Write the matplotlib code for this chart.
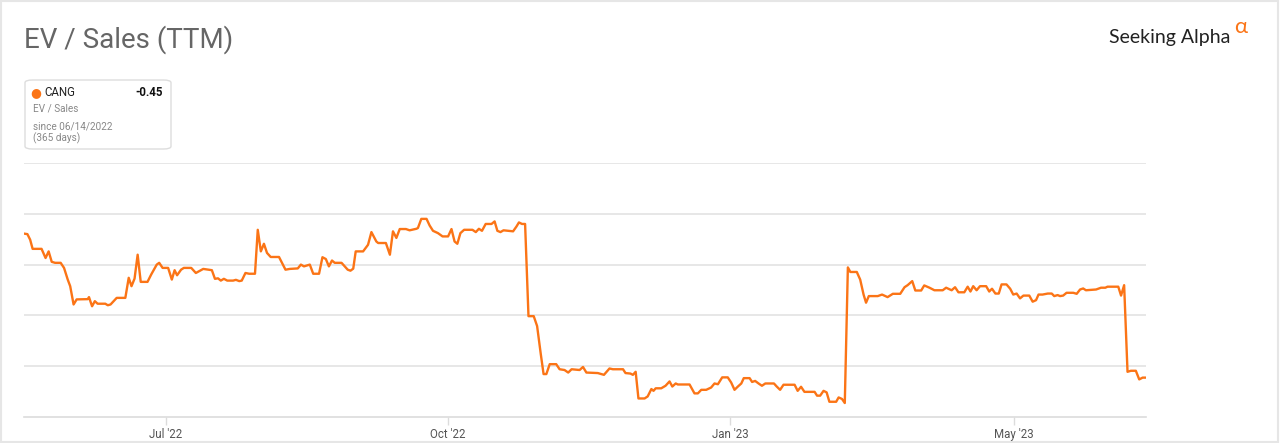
import matplotlib
matplotlib.use("Agg")
import matplotlib.pyplot as plt
from matplotlib.patches import FancyBboxPatch, Rectangle

plt.rcParams['font.family'] = ['Roboto', 'DejaVu Sans']

# EV / Sales (TTM) for CANG (x = position along the ordinal time axis)
days = [0.0, 1.1, 2.0, 2.8, 5.7, 7.0, 8.0, 9.0, 10.1, 11.9, 13.0, 14.2, 15.0, 16.1, 17.1,
        20.7, 21.1, 22.1, 23.0, 23.9, 26.4, 27.2, 28.1, 30.1, 32.9, 34.0, 34.9, 35.9, 36.9,
        37.9, 40.1, 41.3, 43.1, 43.9, 45.0, 46.8, 48.0, 48.9, 49.7, 51.0, 51.9, 54.3, 55.8,
        58.2, 61.0, 62.0, 63.0, 63.9, 64.9, 66.0, 67.9, 68.8, 69.9, 70.7, 71.9, 73.1, 75.0,
        75.9, 76.9, 77.9, 78.9, 80.1, 82.8, 84.9, 86.3, 88.9, 89.9, 90.9, 92.8, 93.9, 95.8,
        96.9, 98.0, 99.0, 100.0, 100.9, 103.1, 105.1, 106.0, 106.9, 107.7, 110.1, 111.7,
        112.8, 114.4, 115.0, 117.5, 118.8, 119.8, 120.9, 122.0, 124.0, 125.2, 127.4, 127.9,
        129.0, 130.7, 131.7, 132.8, 134.4, 135.9, 137.7, 138.8, 139.8, 140.7, 141.7, 142.9,
        145.6, 146.7, 147.7, 148.7, 149.9, 151.8, 152.8, 153.7, 154.7, 155.7, 158.8, 159.9,
        160.7, 161.7, 162.7, 163.8, 165.5, 166.6, 167.8, 168.7, 169.6, 170.7, 172.8, 173.9,
        175.5, 176.7, 177.8, 180.4, 181.5, 182.6, 186.3, 188.3, 190.1, 191.2, 194.5, 195.3,
        196.9, 197.7, 198.6, 199.5, 201.5, 202.5, 203.7, 204.4, 205.1, 206.9, 208.3, 209.6,
        210.5, 211.6, 212.3, 216.1, 217.7, 218.8, 219.9, 221.5, 223.1, 224.2, 225.3, 226.7,
        228.5, 229.6, 230.7, 231.8, 232.9, 233.7, 235.6, 236.4, 237.4, 238.5, 239.6, 240.7,
        243.5, 244.4, 245.5, 246.6, 250.2, 251.2, 252.3, 253.4, 256.7, 257.5, 258.5, 259.6,
        260.6, 261.5, 263.7, 264.5, 265.6, 266.5, 267.5, 268.3, 270.4, 271.5, 272.6, 273.4,
        274.3, 277.2, 278.6, 280.4, 282.1, 284.5, 285.9, 286.9, 288.4, 289.4, 291.3, 292.3,
        294.0, 295.6, 298.3, 299.4, 301.2, 302.3, 303.4, 305.3, 306.4, 307.3, 308.2, 309.3,
        310.4, 312.4, 313.4, 314.3, 315.4, 316.5, 317.4, 319.0, 320.2, 321.2, 322.3, 323.4,
        324.5, 326.4, 327.5, 328.6, 329.4, 330.7, 332.4, 333.7, 334.5, 335.6, 336.4, 337.4,
        338.5, 340.7, 341.8, 342.9, 343.9, 344.8, 348.1, 349.7, 351.1, 351.8, 355.3, 356.2,
        357.2, 358.3, 359.4, 361.0, 362.1, 363.2, 364.3]
ev_sales = [0.122, 0.120, 0.098, 0.062, 0.062, 0.026, 0.052, 0.011, 0.007, 0.007, -0.013,
            -0.059, -0.085, -0.157, -0.137, -0.136, -0.128, -0.164, -0.144, -0.154, -0.154,
            -0.160, -0.157, -0.131, -0.131, -0.052, -0.085, -0.055, 0.039, -0.068, -0.068,
            -0.039, 0.000, 0.007, -0.013, -0.013, -0.059, -0.022, -0.042, -0.020, -0.013,
            -0.013, -0.033, -0.017, -0.022, -0.056, -0.054, -0.063, -0.056, -0.063, -0.063,
            -0.060, -0.065, -0.063, -0.033, -0.036, -0.036, 0.137, 0.052, 0.082, 0.046, 0.030,
            0.030, -0.020, -0.017, -0.015, 0.000, -0.007, 0.000, -0.036, -0.036, 0.029, 0.022,
            -0.007, 0.016, 0.007, 0.007, -0.020, -0.024, -0.016, 0.052, 0.052, 0.078, 0.128,
            0.091, 0.085, 0.085, 0.039, 0.131, 0.105, 0.140, 0.140, 0.135, 0.141, 0.144, 0.180,
            0.180, 0.154, 0.133, 0.124, 0.111, 0.111, 0.140, 0.091, 0.082, 0.124, 0.137, 0.137,
            0.128, 0.141, 0.133, 0.160, 0.160, 0.170, 0.133, 0.128, 0.135, 0.131, 0.150, 0.166,
            0.160, 0.160, -0.203, -0.203, -0.242, -0.353, -0.431, -0.431, -0.392, -0.392,
            -0.412, -0.415, -0.425, -0.412, -0.415, -0.403, -0.425, -0.427, -0.434, -0.409,
            -0.412, -0.412, -0.427, -0.429, -0.434, -0.422, -0.527, -0.527, -0.519, -0.490,
            -0.497, -0.487, -0.487, -0.477, -0.460, -0.480, -0.468, -0.472, -0.472, -0.507,
            -0.507, -0.493, -0.493, -0.484, -0.468, -0.471, -0.444, -0.444, -0.464, -0.493,
            -0.480, -0.468, -0.447, -0.447, -0.462, -0.458, -0.468, -0.477, -0.468, -0.468,
            -0.480, -0.493, -0.473, -0.473, -0.497, -0.481, -0.501, -0.501, -0.516, -0.516,
            -0.497, -0.503, -0.540, -0.540, -0.523, -0.529, -0.545, -0.011, -0.029, -0.029,
            -0.059, -0.118, -0.150, -0.124, -0.124, -0.118, -0.128, -0.115, -0.115, -0.089,
            -0.081, -0.065, -0.102, -0.102, -0.082, -0.091, -0.101, -0.101, -0.091, -0.101,
            -0.089, -0.109, -0.109, -0.087, -0.106, -0.085, -0.101, -0.085, -0.085, -0.106,
            -0.095, -0.114, -0.114, -0.078, -0.078, -0.095, -0.118, -0.114, -0.133, -0.122,
            -0.122, -0.146, -0.140, -0.118, -0.118, -0.114, -0.114, -0.124, -0.120, -0.124,
            -0.122, -0.111, -0.111, -0.115, -0.098, -0.094, -0.101, -0.098, -0.091, -0.091,
            -0.087, -0.087, -0.122, -0.081, -0.422, -0.418, -0.418, -0.452, -0.445, -0.445]

tick_pos = [46.0, 137.7, 229.3, 321.3]
tick_labels = ["Jul '22", "Oct '22", "Jan '23", "May '23"]
grid_levels = [-0.4, -0.2, 0.0, 0.2, 0.4]

ORANGE = '#fb7416'

fig = plt.figure(figsize=(12.8, 4.43), dpi=100)
ax = fig.add_axes([24 / 1280, 26 / 443, 1122 / 1280, 254 / 443])

for g in grid_levels:
    ax.axhline(g, color='#e3e3e3', lw=1.2, zorder=1)
ax.plot(days, ev_sales, color=ORANGE, lw=1.7, zorder=3, solid_joinstyle='round')

ax.set_xlim(0, 364.3)
ax.set_ylim(-0.6, 0.4)
for s in ['top', 'right', 'left']:
    ax.spines[s].set_visible(False)
ax.spines['bottom'].set_color('#dcdcdc')
ax.spines['bottom'].set_linewidth(1.2)
ax.set_yticks([])
ax.set_xticks(tick_pos)
ax.set_xticklabels(tick_labels, fontsize=8.3, color='#555555')
ax.tick_params(axis='x', length=6, width=1, color='#dcdcdc', pad=2)

# title and logo
fig.text(24 / 1280, 1 - 40 / 443, "EV / Sales (TTM)", fontsize=20, color='#666666',
         va='center', ha='left')
fig.text(1109 / 1280, 1 - 37 / 443, "Seeking Alpha", fontsize=14, color='#222222',
         va='center', ha='left', family=['Lato', 'DejaVu Sans'])
fig.text(1234 / 1280, 1 - 27 / 443, "\u03b1", fontsize=16, color=ORANGE,
         va='center', ha='left', family=['Lato', 'DejaVu Sans'])

# legend card
card = FancyBboxPatch((25 / 1280, 1 - 149 / 443), 146 / 1280, 69 / 443,
                      boxstyle='round,pad=0,rounding_size=0.006', transform=fig.transFigure,
                      facecolor='white', edgecolor='#dddddd', lw=1)
fig.patches.append(card)
fig.text(36 / 1280, 1 - 93 / 443, "\u25cf", fontsize=9, color=ORANGE, va='center', ha='center',
         family=['DejaVu Sans'])
fig.text(44 / 1280, 1 - 93 / 443, "CANG", fontsize=8.3, color='#222222', va='center', ha='left')
fig.text(163 / 1280, 1 - 93 / 443, "-0.45", fontsize=8.3, color='#111111', va='center',
         ha='right', fontweight='bold')
fig.text(33 / 1280, 1 - 109 / 443, "EV / Sales", fontsize=7.2, color='#888888', va='center')
fig.text(33 / 1280, 1 - 126 / 443, "since 06/14/2022", fontsize=7.2, color='#888888', va='center')
fig.text(33 / 1280, 1 - 138 / 443, "(365 days)", fontsize=7.2, color='#888888', va='center')

# thin frame round the whole picture
fig.patches.append(Rectangle((0.0005, 0.002), 0.998, 0.996, transform=fig.transFigure,
                             fill=False, edgecolor='#e6e6e6', lw=1.5))

fig.savefig('out.png', dpi=100)
